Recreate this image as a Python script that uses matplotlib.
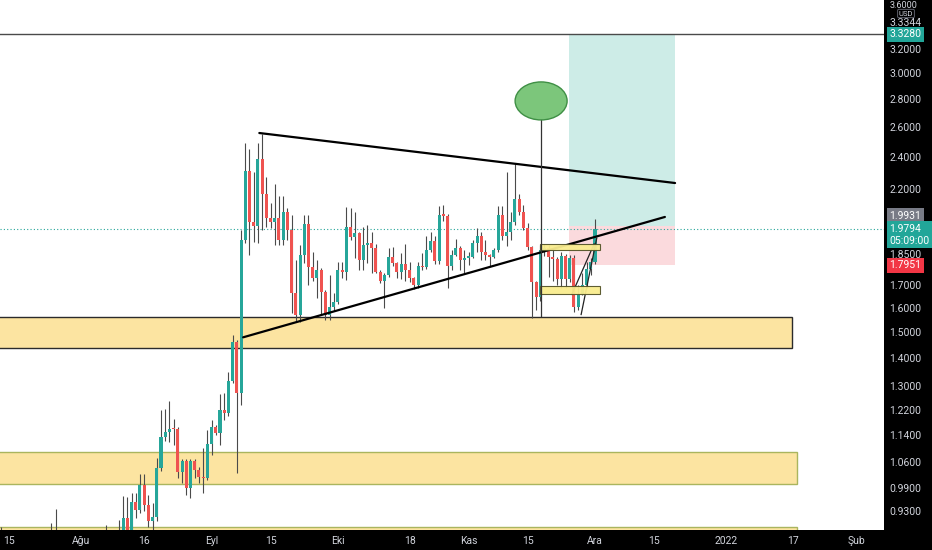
import matplotlib
matplotlib.use("Agg")
import matplotlib.pyplot as plt
import matplotlib.dates as mdates
import matplotlib.transforms as mtransforms
from matplotlib.patches import Rectangle, Ellipse
import numpy as np
import pandas as pd

plt.rcParams['font.family'] = ['Roboto', 'DejaVu Sans']

# daily candles, first one on 13 Jul 2021
first_day = "2021-07-13"
opens = [.840, .830, .810, .790, .780, .800, .790, .770, .780, .810,
         .820, .840, .850, .870, .860, .830, .810, .820, .810, .800,
         .820, .810, .830, .820, .840, .830, .850, .840, .860,
         .872, .913, .884, .952, .933, .997, .945, .905, .915, 1.043,
         1.134, 1.150, 1.159, 1.157, 1.032, 1.063, .990, 1.063, 1.038, 1.019,
         1.015, 1.113, 1.165, 1.146, 1.220, 1.210, 1.317, 1.463, 1.276, 1.920,
         2.310, 2.015, 1.994, 2.383, 2.171, 2.037, 2.015, 2.037, 1.920, 2.070,
         1.973, 1.667, 1.571, 1.845, 2.004, 1.786, 1.735, 1.772, 1.672, 1.571,
         1.605, 1.627, 1.772, 1.764, 1.990, 1.936, 1.957, 1.820, 1.895, 1.905,
         1.880, 1.763, 1.720, 1.749, 1.835, 1.805, 1.763, 1.800, 1.770, 1.735,
         1.700, 1.790, 1.785, 1.870, 1.914, 1.815, 2.053, 2.048, 1.790, 1.845,
         1.880, 1.820, 1.830, 1.835, 1.905, 1.940, 1.860, 1.845, 1.835, 1.870,
         2.053, 1.940, 1.960, 2.015, 2.140, 2.070, 1.985, 1.885, 1.716, 1.650,
         1.870, 1.880, 1.835, 1.826, 1.730, 1.840, 1.730, 1.830, 1.605, 1.660,
         1.700, 1.777, 1.810]
highs = [.892, .860, .850, .830, .820, .840, .820, .800, .830, .850,
         .860, .870, .900, .935, .880, .860, .840, .850, .840, .830,
         .850, .840, .860, .850, .870, .896, .870, .875, .908,
         .968, .966, .975, .975, 1.027, 1.027, .970, .950, 1.072, 1.220,
         1.223, 1.247, 1.190, 1.165, 1.070, 1.070, 1.070, 1.070, 1.045, 1.100,
         1.156, 1.187, 1.172, 1.272, 1.275, 1.349, 1.490, 1.470, 1.973, 2.490,
         2.447, 2.300, 2.490, 2.550, 2.270, 2.120, 2.230, 2.160, 2.160, 2.090,
         2.050, 1.820, 1.895, 2.053, 2.053, 1.859, 1.820, 1.780, 1.680, 1.749,
         1.665, 1.810, 1.810, 2.095, 2.090, 2.070, 1.960, 1.990, 2.000, 1.960,
         1.900, 1.770, 1.760, 1.880, 1.885, 1.810, 1.855, 1.900, 1.810, 1.740,
         1.810, 1.855, 1.940, 1.960, 1.940, 2.100, 2.110, 2.060, 1.870, 1.925,
         1.890, 1.870, 1.860, 1.920, 1.980, 1.960, 1.920, 1.850, 1.880, 2.100,
         2.100, 2.300, 2.070, 2.360, 2.170, 2.110, 2.010, 1.890, 1.720, 1.895,
         1.900, 1.895, 1.870, 1.835, 1.860, 1.850, 1.845, 1.845, 1.700, 1.760,
         1.810, 1.830, 2.030]
lows = [.800, .790, .780, .760, .750, .780, .760, .740, .770, .790,
        .800, .810, .830, .840, .820, .800, .790, .800, .780, .780,
        .800, .790, .810, .800, .820, .820, .830, .820, .840,
        .860, .870, .875, .913, .925, .930, .890, .885, .905, 1.035,
        1.121, 1.118, 1.110, 1.016, 1.003, .971, .963, 1.016, 1.003, .976,
        1.010, 1.081, 1.140, 1.110, 1.187, 1.200, 1.310, 1.029, 1.236, 1.905,
        1.845, 1.910, 1.905, 1.973, 1.990, 1.980, 1.895, 1.895, 1.895, 1.920,
        1.580, 1.540, 1.540, 1.807, 1.700, 1.720, 1.645, 1.571, 1.550, 1.550,
        1.590, 1.620, 1.735, 1.725, 1.920, 1.832, 1.772, 1.772, 1.807, 1.760,
        1.760, 1.710, 1.600, 1.740, 1.790, 1.735, 1.730, 1.720, 1.716, 1.685,
        1.690, 1.770, 1.775, 1.860, 1.800, 1.800, 2.020, 1.690, 1.772, 1.840,
        1.772, 1.760, 1.795, 1.830, 1.860, 1.820, 1.820, 1.790, 1.830, 1.860,
        1.920, 1.890, 1.920, 2.000, 2.050, 1.970, 1.870, 1.560, 1.592, 1.630,
        1.840, 1.740, 1.720, 1.700, 1.690, 1.690, 1.716, 1.584, 1.592, 1.658,
        1.690, 1.749, 1.800]
closes = [.830, .810, .790, .780, .800, .790, .770, .780, .810, .820,
          .840, .850, .870, .860, .830, .810, .820, .810, .800, .820,
          .810, .830, .820, .840, .830, .850, .840, .860, .872,
          .913, .884, .952, .933, .997, .945, .905, .915, 1.043, 1.134,
          1.150, 1.159, 1.157, 1.032, 1.063, .990, 1.063, 1.038, 1.019, 1.015,
          1.113, 1.165, 1.146, 1.220, 1.210, 1.317, 1.463, 1.276, 1.920, 2.310,
          2.015, 1.994, 2.383, 2.171, 2.037, 2.015, 2.037, 1.920, 2.070, 1.973,
          1.667, 1.571, 1.845, 2.004, 1.786, 1.735, 1.772, 1.672, 1.571, 1.605,
          1.627, 1.772, 1.764, 1.990, 1.936, 1.957, 1.820, 1.895, 1.905, 1.880,
          1.763, 1.720, 1.749, 1.835, 1.805, 1.763, 1.800, 1.770, 1.735, 1.700,
          1.790, 1.785, 1.870, 1.914, 1.815, 2.053, 2.048, 1.790, 1.845, 1.880,
          1.820, 1.830, 1.835, 1.905, 1.940, 1.860, 1.845, 1.835, 1.870, 2.053,
          1.940, 1.960, 2.015, 2.140, 2.070, 1.985, 1.885, 1.716, 1.650, 1.870,
          1.880, 1.835, 1.826, 1.730, 1.840, 1.730, 1.830, 1.605, 1.660, 1.700,
          1.777, 1.810, 1.9794]

# price axis
price_ticks = [3.2, 3.0, 2.8, 2.6, 2.4, 2.2, 1.85, 1.7, 1.6, 1.5, 1.4,
               1.3, 1.22, 1.14, 1.06, 0.99, 0.93]
top_tick = 3.6
price_low, price_high = 0.884, 3.648
view_start, view_end = "2021-07-12 19:00", "2022-02-07 14:00"
date_ticks = ["2021-07-15", "2021-08-01", "2021-08-16", "2021-09-01", "2021-09-15",
              "2021-10-01", "2021-10-18", "2021-11-01", "2021-11-15", "2021-12-01",
              "2021-12-15", "2022-01-01", "2022-01-17", "2022-02-01"]
date_labels = ["15", "Ağu", "16", "Eyl", "15", "Eki", "18", "Kas", "15", "Ara",
               "15", "2022", "17", "Şub"]

# drawings
zone_tops = [1.563, 1.089, 0.891]
zone_bottoms = [1.439, 1.000, 0.80]
zone_ends = ["2022-01-16 17:00", "2022-01-18", "2022-01-18"]
zone_edges = ["#2b2b2b", "#aab55e", "#aab55e"]
upper_line = (["2021-09-12 08:00", "2021-12-20"], [2.556, 2.236])
lower_line = (["2021-09-08 12:00", "2021-12-17 14:00"], [1.48, 2.042])
wedge_a = (["2021-11-27 17:00", "2021-12-01 10:00"], [1.573, 1.93])
wedge_b = (["2021-11-25 12:00", "2021-11-30 19:00"], [1.66, 1.90])
box_days = ["2021-11-17 22:00", "2021-12-02 05:00"]
box_a = (1.870, 1.900)
box_b = (1.662, 1.698)
ellipse_day, ellipse_price = "2021-11-18 05:00", 2.785
marker_top, marker_bottom = 2.87, 1.565
pos_days = ["2021-11-24 19:00", "2021-12-20"]
target, entry, stop = 3.328, 1.9931, 1.7951
level_line = 3.328
last_price = 1.9794

GREEN, RED = "#26a69a", "#ef5350"
AXIS_TXT = "#d1d4dc"

fig = plt.figure(figsize=(9.32, 5.5), dpi=100, facecolor="black")
ax = fig.add_axes([0, 20 / 550, 884 / 932, 530 / 550])
ax.set_facecolor("white")
ax.set_yscale("log")

dn = lambda s: mdates.date2num(pd.Timestamp(s))

dates = pd.date_range(first_day, periods=len(closes), freq="D")
x = mdates.date2num(dates)
o, h, l, c = map(np.array, (opens, highs, lows, closes))
up = c >= o
cols = np.where(up, GREEN, RED)
ax.vlines(x, l, h, color="#4a4a4a", lw=0.8, zorder=3)
body = np.maximum(np.abs(c - o), o * 0.004)
ax.bar(x, body, bottom=np.minimum(o, c), width=0.72, color=cols, linewidth=0, zorder=4)

x0, x1 = dn(view_start), dn(view_end)
ax.set_xlim(x0, x1)
ax.set_ylim(price_low, price_high)

# support / resistance zones
for top, bot, end, ec in zip(zone_tops, zone_bottoms, zone_ends, zone_edges):
    ax.add_patch(Rectangle((x0 - 30, bot), dn(end) - x0 + 30, top - bot,
                           fc="#fce4a1", ec=ec, lw=1.0, zorder=1))

# long position tool
pl, pr = dn(pos_days[0]), dn(pos_days[1])
ax.add_patch(Rectangle((pl, entry), pr - pl, target - entry, fc="#cdece7", ec="none", zorder=1))
ax.add_patch(Rectangle((pl, stop), pr - pl, entry - stop, fc="#fbdadd", ec="none", zorder=1))

ax.axhline(level_line, color="#4a4a4a", lw=1.0, zorder=2)
ax.axhline(last_price, color=GREEN, lw=0.8, ls=(0, (1, 2)), zorder=2)

# triangle
for pts in (upper_line, lower_line):
    ax.plot([dn(d) for d in pts[0]], pts[1], color="black", lw=1.6, zorder=5,
            solid_capstyle="round")
for pts in (wedge_a, wedge_b):
    ax.plot([dn(d) for d in pts[0]], pts[1], color="#222222", lw=0.9, zorder=5)

# small yellow boxes
bl, br = dn(box_days[0]), dn(box_days[1])
for lo, hi in (box_a, box_b):
    ax.add_patch(Rectangle((bl, lo), br - bl, hi - lo, fc="#f9ec8e", ec="#55552a",
                           lw=0.8, zorder=5, alpha=0.95))

# target ellipse with marker line
ex = dn(ellipse_day)
ax.plot([ex, ex], [marker_top, marker_bottom], color="#333333", lw=0.9, zorder=5)
cx, cy = ax.transAxes.inverted().transform(ax.transData.transform((ex, ellipse_price)))
ax.add_patch(Ellipse((cx, cy), 52 / 884, 38 / 530, transform=ax.transAxes,
                     fc="#7cc67b", ec="#3f8f45", lw=1.0, zorder=6))

# axes cosmetics
for s in ax.spines.values():
    s.set_visible(False)
ax.yaxis.tick_right()
ax.set_yticks(price_ticks)
ax.set_yticklabels(["%.4f" % p for p in price_ticks])
ax.yaxis.set_minor_locator(matplotlib.ticker.NullLocator())
ax.tick_params(axis="y", length=0, pad=4, labelsize=7.5, colors=AXIS_TXT)
ax.set_xticks([dn(d) for d in date_ticks])
ax.set_xticklabels(date_labels)
ax.tick_params(axis="x", length=0, pad=4, labelsize=7.5, colors=AXIS_TXT)

tr = mtransforms.blended_transform_factory(ax.transAxes, ax.transData)
def price_tag(val, text, fc, dy=0, tc="white", va="center", size=7.5):
    ax.annotate(text, xy=(1, val), xycoords=tr, xytext=(4, dy), textcoords="offset points",
                fontsize=size, color=tc, va=va, ha="left", annotation_clip=False,
                bbox=dict(boxstyle="square,pad=0.25", fc=fc, ec="none") if fc else None)

price_tag(top_tick, "3.6000", None, dy=-0.5, tc=AXIS_TXT, size=6.5)
price_tag(3.3344, "3.3344", None, dy=7.5, tc=AXIS_TXT)
price_tag(target, "3.3280", "#22a699")
price_tag(entry, "1.9931", "#787b86", dy=7.5)
price_tag(last_price, "1.9794\n05:09:00", "#22a699", dy=-4.5)
price_tag(stop, "1.7951", "#f23645")

fig.text(906 / 932, 1 - 13.5 / 550, "USD", fontsize=5.5, color=AXIS_TXT, ha="center",
         va="center", bbox=dict(boxstyle="round,pad=0.15", fc="black", ec="#5d606b", lw=0.7))

fig.savefig("out.png", dpi=100, facecolor="black")
